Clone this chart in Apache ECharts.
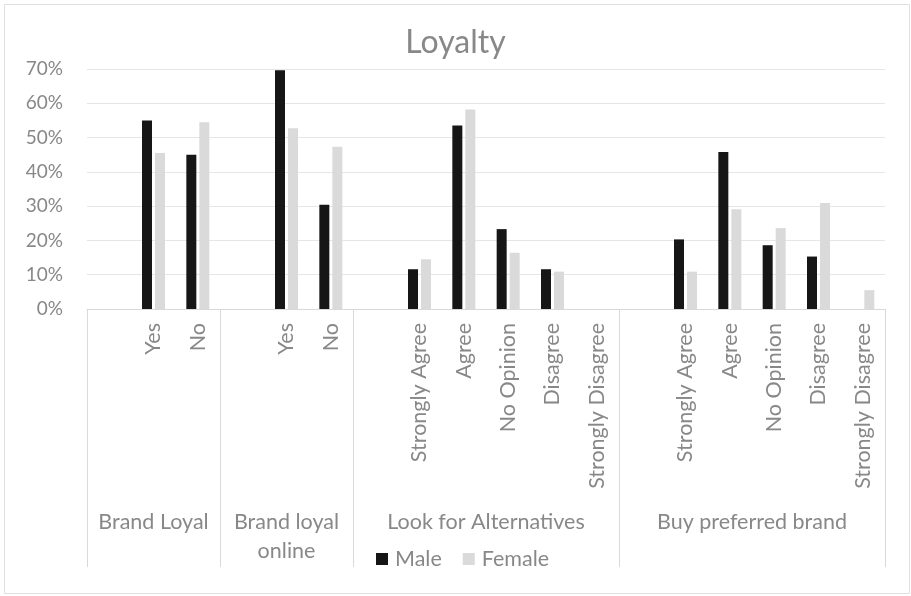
<!DOCTYPE html>
<html>
<head>
<meta charset="utf-8">
<script src="https://cdn.jsdelivr.net/npm/echarts@6/dist/echarts.min.js"></script>
<style>
  html, body { margin: 0; padding: 0; background: #fff; }
  #chart { width: 911px; height: 596px; }
</style>
</head>
<body>
<div id="chart"></div>
<script>
// Answer options, one slot each; a blank slot opens every question group
const categories = [
  '', 'Yes', 'No',
  '', 'Yes', 'No',
  '', 'Strongly Agree', 'Agree', 'No Opinion', 'Disagree', 'Strongly Disagree',
  '', 'Strongly Agree', 'Agree', 'No Opinion', 'Disagree', 'Strongly Disagree'
];
// Question groups and how many slots each spans
const groupNames = ['Brand Loyal', 'Brand loyal\nonline', 'Look for Alternatives', 'Buy preferred brand'];
const groupSizes = [3, 3, 6, 6];

// Share of respondents (%)
const male = [
  null, 55.0, 45.0,
  null, 69.6, 30.4,
  null, 11.6, 53.5, 23.3, 11.6, 0,
  null, 20.3, 45.8, 18.6, 15.3, 0
];
const female = [
  null, 45.5, 54.5,
  null, 52.7, 47.3,
  null, 14.5, 58.2, 16.4, 10.9, 0,
  null, 10.9, 29.1, 23.6, 30.9, 5.5
];
const yTicks = { min: 0, max: 70, step: 10 };

// Group axis: half-slot points so group centres and borders fall on points
const halfCount = categories.length * 2 + 1;
const groupAxisData = new Array(halfCount).fill('');
const borderPoints = [0];
let start = 0;
groupSizes.forEach((n, i) => {
  groupAxisData[start * 2 + n] = groupNames[i];
  start += n;
  borderPoints.push(start * 2);
});

const textColor = '#888888';
const lineColor = '#d9d9d9';
const font = 'Lato, "Open Sans", sans-serif';
const labelSize = 21.5;

const chart = echarts.init(document.getElementById('chart'), null, { renderer: 'canvas' });
chart.setOption({
  backgroundColor: '#ffffff',
  animation: false,
  textStyle: { fontFamily: font },
  title: {
    text: 'Loyalty',
    left: 'center',
    top: 22,
    textStyle: { color: textColor, fontSize: 32, fontWeight: 'normal', fontFamily: font }
  },
  legend: {
    data: ['Male', 'Female'],
    left: 371,
    top: 543,
    itemWidth: 12,
    itemHeight: 12,
    itemGap: 21,
    icon: 'rect',
    textStyle: { color: textColor, fontSize: labelSize, fontFamily: font, padding: [0, 0, 0, 2] }
  },
  graphic: [{
    type: 'rect',
    shape: { x: 4.5, y: 4.5, width: 905, height: 589 },
    style: { fill: 'none', stroke: '#e0e0e0', lineWidth: 1 },
    silent: true
  }],
  grid: { left: 87, right: 26, top: 69, bottom: 287, containLabel: false },
  xAxis: [{
    type: 'category',
    data: categories,
    position: 'bottom',
    axisLine: { show: true, lineStyle: { color: lineColor, width: 1 } },
    axisTick: { show: false },
    axisLabel: {
      interval: 0,
      rotate: 90,
      margin: 14,
      color: textColor,
      fontSize: labelSize,
      fontFamily: font
    },
    splitLine: { show: false }
  }, {
    type: 'category',
    data: groupAxisData,
    boundaryGap: false,
    position: 'bottom',
    axisLine: { show: false },
    axisTick: {
      show: true,
      interval: (i) => borderPoints.includes(i),
      length: 258,
      lineStyle: { color: lineColor, width: 1 }
    },
    axisLabel: {
      interval: 0,
      margin: 199,
      color: textColor,
      fontSize: labelSize,
      lineHeight: 29,
      align: 'center',
      fontFamily: font
    },
    splitLine: { show: false }
  }],
  yAxis: {
    type: 'value',
    min: yTicks.min,
    max: yTicks.max,
    interval: yTicks.step,
    axisLine: { show: false },
    axisTick: { show: false },
    axisLabel: {
      formatter: '{value}%',
      color: textColor,
      fontSize: 19,
      margin: 24,
      fontFamily: font
    },
    splitLine: { lineStyle: { color: '#e6e6e6', width: 1 } }
  },
  series: [{
    name: 'Male',
    type: 'bar',
    xAxisIndex: 0,
    data: male,
    barWidth: 10,
    barGap: '30%',
    itemStyle: { color: '#161616' }
  }, {
    name: 'Female',
    type: 'bar',
    xAxisIndex: 0,
    data: female,
    barWidth: 10,
    barGap: '30%',
    itemStyle: { color: '#d9dad9' }
  }]
});
</script>
</body>
</html>
